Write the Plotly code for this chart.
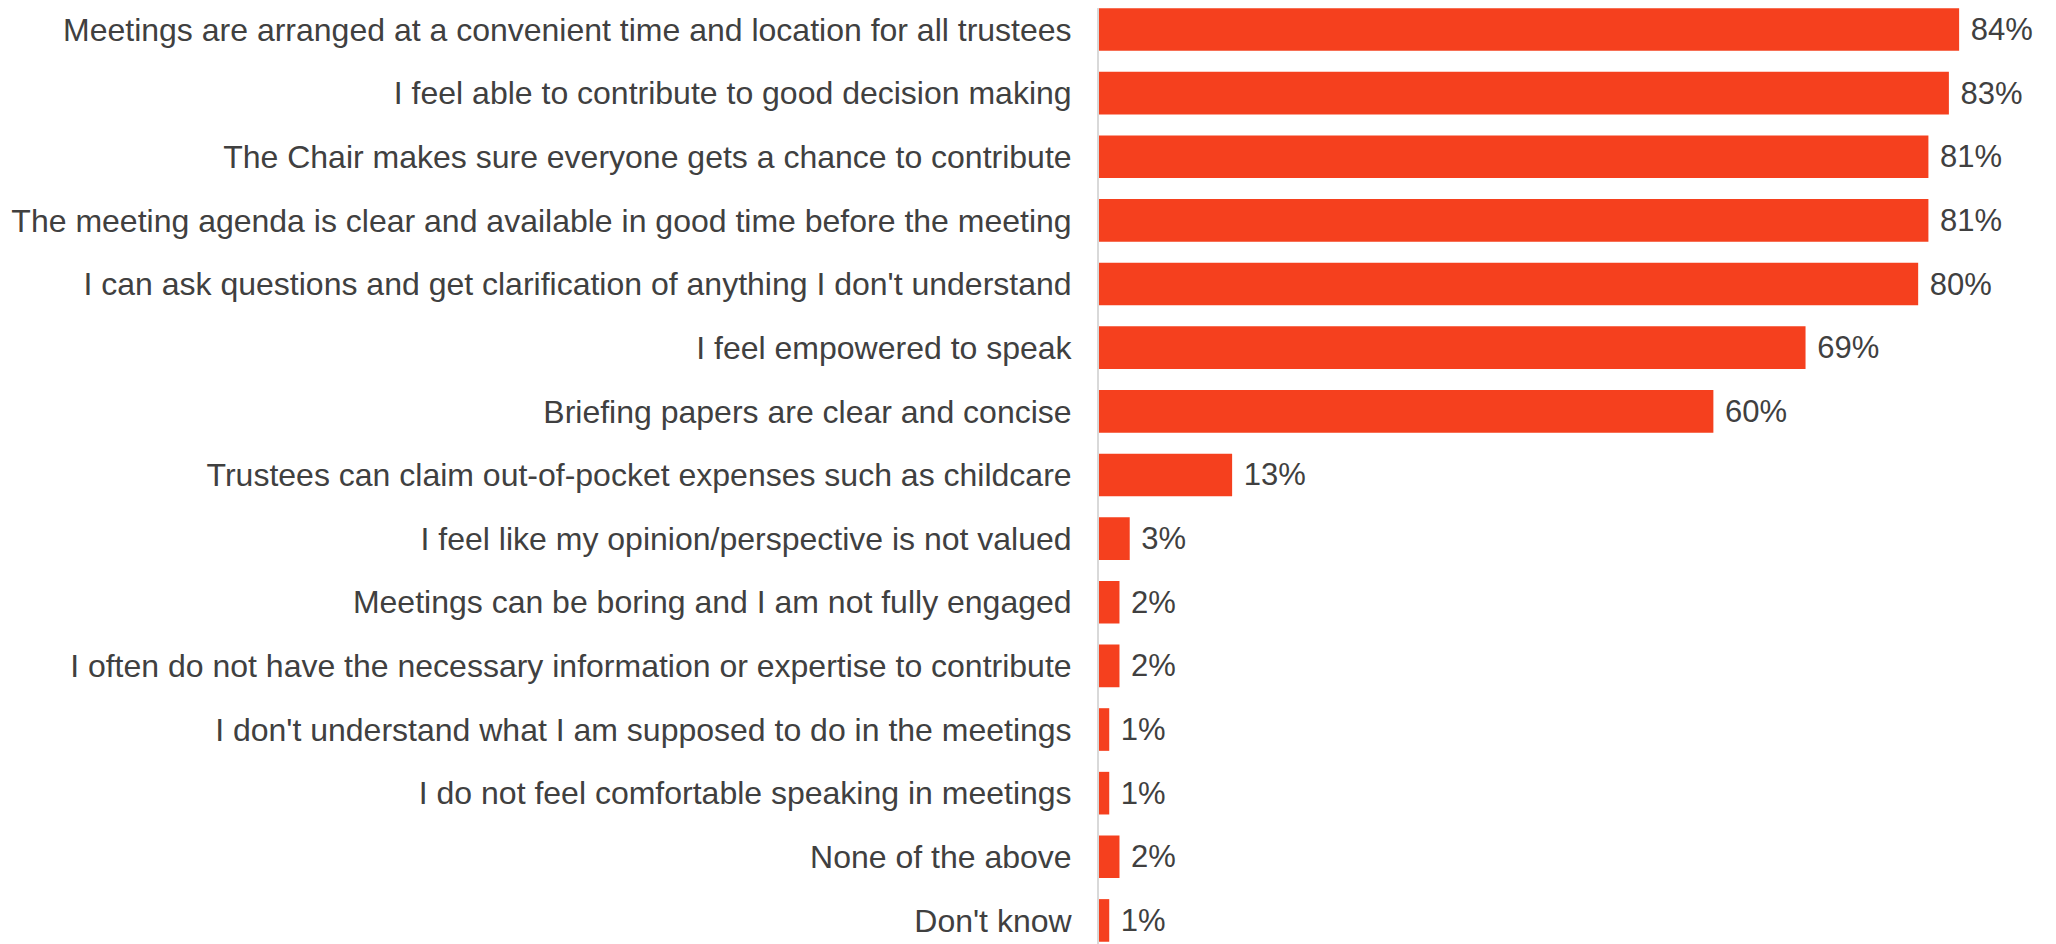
import plotly.graph_objects as go

categories = [
    "Meetings are arranged at a convenient time and location for all trustees",
    "I feel able to contribute to good decision making",
    "The Chair makes sure everyone gets a chance to contribute",
    "The meeting agenda is clear and available in good time before the meeting",
    "I can ask questions and get clarification of anything I don't understand",
    "I feel empowered to speak",
    "Briefing papers are clear and concise",
    "Trustees can claim out-of-pocket expenses such as childcare",
    "I feel like my opinion/perspective is not valued",
    "Meetings can be boring and I am not fully engaged",
    "I often do not have the necessary information or expertise to contribute",
    "I don't understand what I am supposed to do in the meetings",
    "I do not feel comfortable speaking in meetings",
    "None of the above",
    "Don't know",
]
values = [84, 83, 81, 81, 80, 69, 60, 13, 3, 2, 2, 1, 1, 2, 1]
labels = [f" {v}%" for v in values]

FONT = "Liberation Sans, Arial"
TEXT_COLOR = "#404040"

fig = go.Figure(
    go.Bar(
        x=values,
        y=categories,
        orientation="h",
        marker=dict(color="#F5401E", line=dict(width=0)),
        width=0.67,
        text=labels,
        textposition="outside",
        textfont=dict(family=FONT, size=31, color=TEXT_COLOR),
        cliponaxis=False,
    )
)

fig.update_layout(
    width=2048,
    height=944,
    margin=dict(l=1091, r=0, t=0, b=0),
    paper_bgcolor="white",
    plot_bgcolor="white",
    showlegend=False,
    font=dict(family=FONT, size=31, color=TEXT_COLOR),
)
fig.update_xaxes(
    range=[0, 93.46],
    visible=False,
    showgrid=False,
    zeroline=False,
)
fig.update_yaxes(
    categoryorder="array",
    categoryarray=categories,
    range=[14.496, -0.3378],
    showline=True,
    linecolor="#D9D9D9",
    linewidth=2,
    showgrid=False,
    ticks="",
    ticklabelstandoff=19,
    tickfont=dict(family=FONT, size=32, color=TEXT_COLOR),
    automargin=False,
)

fig.write_html("out.html")
